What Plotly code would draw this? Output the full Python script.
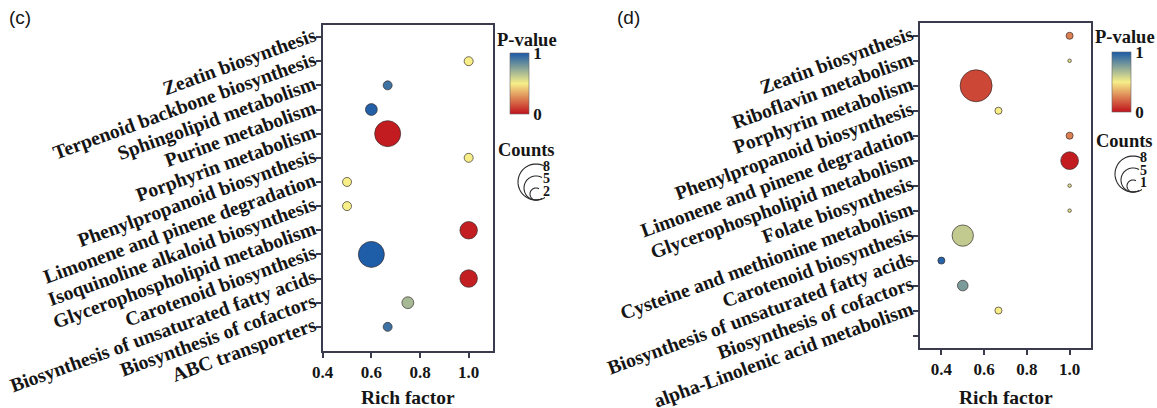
import math
import plotly.graph_objects as go

W, H = 1157, 408

# ---------------- data: panel (c) ----------------
c_pathways = ["Zeatin biosynthesis", "Terpenoid backbone biosynthesis", "Sphingolipid metabolism",
              "Purine metabolism", "Porphyrin metabolism", "Phenylpropanoid biosynthesis",
              "Limonene and pinene degradation", "Isoquinoline alkaloid biosynthesis",
              "Glycerophospholipid metabolism", "Carotenoid biosynthesis",
              "Biosynthesis of unsaturated fatty acids", "Biosynthesis of cofactors", "ABC transporters"]
c_rich = [None, 1.0, 0.667, 0.6, 0.667, 1.0, 0.5, 0.5, 1.0, 0.6, 1.0, 0.75, 0.667]
c_counts = [None, 2, 2, 3, 8, 2, 2, 2, 5, 8, 5, 3, 2]
c_pvalue = [None, 0.5, 0.92, 0.98, 0.02, 0.5, 0.5, 0.5, 0.03, 0.99, 0.03, 0.68, 0.92]
c_count_legend = [8, 5, 2]

# ---------------- data: panel (d) ----------------
d_pathways = ["Zeatin biosynthesis", "Riboflavin metabolism", "Porphyrin metabolism",
              "Phenylpropanoid biosynthesis", "Limonene and pinene degradation",
              "Glycerophospholipid metabolism", "Folate biosynthesis",
              "Cysteine and methionine metabolism", "Carotenoid biosynthesis",
              "Biosynthesis of unsaturated fatty acids", "Biosynthesis of cofactors",
              "alpha-Linolenic acid metabolism", ""]
d_rich = [1.0, 1.0, 0.5625, 0.667, 1.0, 1.0, 1.0, 1.0, 0.5, 0.4, 0.5, 0.667, None]
d_counts = [2, 1, 9, 2, 2, 5, 1, 1, 6, 2, 3, 2, None]
d_pvalue = [0.25, 0.55, 0.12, 0.5, 0.25, 0.02, 0.55, 0.55, 0.62, 0.97, 0.78, 0.5, None]
d_count_legend = [8, 5, 1]

x_ticks = [0.4, 0.6, 0.8, 1.0]

SERIF = "Liberation Serif"
INK = "#151515"
AXC = "#3a3c4e"
CSCALE = [[0.0, "#c0121c"], [0.5, "#f7ee88"], [1.0, "#1a5aa8"]]


def px(x):
    return x / W


def py(y):
    return 1 - y / H


def diam(c, cmin, cmax, dmin, dmax):
    return dmin + (c - cmin) * (dmax - dmin) / (cmax - cmin)


fig = go.Figure()

panels = [
    dict(name="c", paths=c_pathways, rich=c_rich, counts=c_counts, pv=c_pvalue,
         dom=(322.7, 493, 25, 351), xr=[0.4, 1.1], yr=[13.0, -0.5],
         dsz=(9, 26), cax="coloraxis", xa="x", ya="y",
         cb=(510, 53, 114), ptitle=(527, 40), ctitle=(526, 150),
         arc=(536, 200), legend=c_count_legend, letter=(7, 18, "(c)")),
    dict(name="d", paths=d_pathways, rich=d_rich, counts=d_counts, pv=d_pvalue,
         dom=(920, 1091, 23.3, 348), xr=[0.3, 1.1], yr=[12.5, -0.5],
         dsz=(3.5, 32), cax="coloraxis2", xa="x2", ya="y2",
         cb=(1112, 52, 112), ptitle=(1125, 37), ctitle=(1124, 141),
         arc=(1133, 192), legend=d_count_legend, letter=(615, 18, "(d)")),
]

annotations = []
shapes = []
layout_extra = {}

for i, p in enumerate(panels):
    idx = [k for k, v in enumerate(p["rich"]) if v is not None]
    cnt = [p["counts"][k] for k in idx]
    cmin, cmax = min(cnt), max(cnt)
    sizes = [diam(c, cmin, cmax, *p["dsz"]) for c in cnt]
    fig.add_trace(go.Scatter(
        x=[p["rich"][k] for k in idx], y=idx, mode="markers",
        xaxis=p["xa"], yaxis=p["ya"], showlegend=False,
        marker=dict(size=sizes, sizemode="diameter",
                    color=[p["pv"][k] for k in idx], coloraxis=p["cax"],
                    line=dict(color="rgba(50,40,40,0.75)", width=0.9), opacity=1),
    ))
    x0, x1, y0, y1 = p["dom"]
    sfx = "" if i == 0 else "2"
    common_axis = dict(showline=True, mirror=True, linecolor=AXC, linewidth=1.5,
                       ticks="outside", ticklen=5, tickwidth=1.5, tickcolor=AXC,
                       showgrid=False, zeroline=False, automargin=False,
                       ticklabeloverflow="allow")
    layout_extra["xaxis" + sfx] = dict(
        domain=[px(x0), px(x1)], range=p["xr"], anchor="y" + sfx,
        tickvals=x_ticks, ticktext=[f"{v:.1f}" for v in x_ticks],
        tickfont=dict(family=SERIF, size=17, color=INK, weight="bold"),
        **common_axis)
    layout_extra["yaxis" + sfx] = dict(
        domain=[py(y1), py(y0)], range=p["yr"], anchor="x" + sfx,
        tickvals=list(range(len(p["paths"]))), ticktext=p["paths"],
        tickangle=-20, ticklabelshift=3, ticklabelstandoff=-2,
        tickfont=dict(family=SERIF, size=19.7, color=INK, weight="bold"),
        **common_axis)
    cbx, cby0, cby1 = p["cb"]
    layout_extra[p["cax"]] = dict(
        cmin=0, cmax=1, colorscale=CSCALE,
        colorbar=dict(x=px(cbx), xanchor="left", y=py((cby0 + cby1) / 2), yanchor="middle",
                      len=cby1 - cby0, lenmode="pixels", thickness=19, thicknessmode="pixels",
                      xpad=0, ypad=0, tickvals=[0, 1], ticktext=["0", "1"], ticks="",
                      tickfont=dict(family=SERIF, size=17, color=INK, weight="bold"),
                      outlinewidth=0.6, outlinecolor="#666"))
    # titles
    annotations.append(dict(x=px(p["ptitle"][0]), y=py(p["ptitle"][1]), xref="paper", yref="paper",
                            text="P-value", showarrow=False, xanchor="center", yanchor="middle",
                            font=dict(family=SERIF, size=18.5, color=INK, weight="bold")))
    annotations.append(dict(x=px(p["ctitle"][0]), y=py(p["ctitle"][1]), xref="paper", yref="paper",
                            text="Counts", showarrow=False, xanchor="center", yanchor="middle",
                            font=dict(family=SERIF, size=18.5, color=INK, weight="bold")))
    annotations.append(dict(x=px((x0 + x1) / 2), y=py(397), xref="paper", yref="paper",
                            text="Rich factor", showarrow=False, xanchor="center", yanchor="middle",
                            font=dict(family=SERIF, size=19.5, color=INK, weight="bold")))
    lx, ly, lt = p["letter"]
    annotations.append(dict(x=px(lx), y=py(ly), xref="paper", yref="paper", text=lt,
                            showarrow=False, xanchor="left", yanchor="middle",
                            font=dict(family="Liberation Sans", size=19, color=INK)))
    # count legend arcs
    acx, ab = p["arc"]
    radii = [18, 12, 6]
    label_dy = [34, 22, 9]
    for r, lab, dy in zip(radii, p["legend"], label_dy):
        cy = ab - r
        pts = []
        for k in range(41):
            a = math.radians(60 + k * 240 / 40)
            pts.append((acx + r * math.cos(a), cy - r * math.sin(a)))
        path = "M " + " L ".join(f"{px(a):.5f},{py(b):.5f}" for a, b in pts)
        shapes.append(dict(type="path", path=path, xref="paper", yref="paper",
                           line=dict(color="#2a2a2a", width=1.1)))
        annotations.append(dict(x=px(acx + 10), y=py(ab - dy), xref="paper", yref="paper",
                                text=str(lab), showarrow=False, xanchor="center", yanchor="middle",
                                font=dict(family=SERIF, size=14, color=INK, weight="bold")))

fig.update_layout(
    width=W, height=H,
    margin=dict(l=0, r=0, t=0, b=0, autoexpand=False),
    paper_bgcolor="white", plot_bgcolor="white",
    annotations=annotations, shapes=shapes,
    **layout_extra,
)

fig.write_html("out.html", config={"displayModeBar": False},
               post_script="document.body.style.margin='0';document.body.style.padding='0';")
